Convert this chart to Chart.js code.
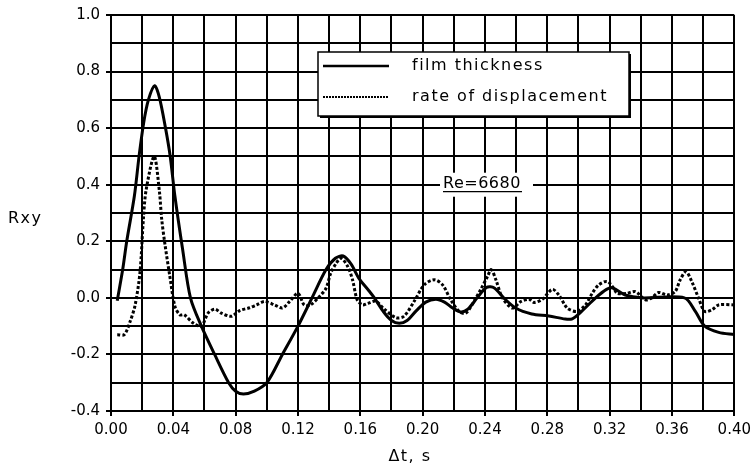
<!DOCTYPE html>
<html>
<head>
<meta charset="utf-8">
<script src="https://cdn.jsdelivr.net/npm/chart.js@4/dist/chart.umd.min.js"></script>
<style>
  html, body { margin: 0; padding: 0; background: #fff; }
  canvas { display: block; }
</style>
</head>
<body>
<canvas id="corr" width="756" height="471"></canvas>
<script>
// Cross-correlation Rxy against time lag Δt (s), Re = 6680.

const thickT = [0.004, 0.0075, 0.0101, 0.015, 0.018, 0.021, 0.024, 0.028, 0.031, 0.035, 0.038, 0.041,
    0.046, 0.051, 0.058, 0.0665, 0.0755, 0.080, 0.085, 0.092, 0.100, 0.110, 0.120, 0.129, 0.138, 0.144,
    0.149, 0.154, 0.159, 0.1655, 0.169, 0.175, 0.180, 0.185, 0.190, 0.196, 0.202, 0.2085, 0.214, 0.219,
    0.2245, 0.229, 0.235, 0.241, 0.246, 0.252, 0.2597, 0.270, 0.281, 0.2915, 0.296, 0.302, 0.311, 0.318,
    0.322, 0.330, 0.3405, 0.368, 0.375, 0.381, 0.390, 0.400];
const thickR = [-0.01, 0.10, 0.20, 0.36, 0.50, 0.62, 0.70, 0.75, 0.71, 0.60, 0.50, 0.36,
    0.17, 0.00, -0.10, -0.20, -0.30, -0.33, -0.34, -0.33, -0.30, -0.20, -0.10, 0.00, 0.10, 0.14,
    0.148, 0.12, 0.07, 0.025, 0.00, -0.05, -0.08, -0.09, -0.08, -0.045, -0.015, -0.005, -0.015, -0.035,
    -0.05, -0.04, 0.00, 0.037, 0.035, 0.00, -0.036, -0.057, -0.064, -0.075, -0.074, -0.048, 0.00, 0.03,
    0.035, 0.01, 0.00, 0.00, -0.048, -0.10, -0.122, -0.13];

const rateT = [0.004, 0.0085, 0.0125, 0.0155, 0.0186, 0.0208, 0.0225, 0.0277, 0.031, 0.0325, 0.0346,
    0.0378, 0.041, 0.0442, 0.047, 0.053, 0.058, 0.0623, 0.0666, 0.0708, 0.0773, 0.0826, 0.089, 0.0934,
    0.0986, 0.105, 0.110, 0.1146, 0.120, 0.124, 0.128, 0.1338, 0.138, 0.141, 0.1445, 0.1477, 0.152, 0.155,
    0.158, 0.1614, 0.1645, 0.170, 0.1754, 0.1829, 0.188, 0.1946, 0.201, 0.2074, 0.2128, 0.218, 0.2234,
    0.2277, 0.233, 0.2373, 0.2416, 0.244, 0.247, 0.2512, 0.2576, 0.263, 0.2682, 0.2714, 0.2768, 0.2832,
    0.2874, 0.2928, 0.299, 0.3045, 0.3088, 0.313, 0.3184, 0.3226, 0.3248, 0.331, 0.3365, 0.343, 0.347,
    0.3514, 0.357, 0.362, 0.3653, 0.369, 0.3727, 0.377, 0.381, 0.3856, 0.390, 0.400];
const rateR = [-0.13, -0.13, -0.08, -0.025, 0.09, 0.28, 0.38, 0.50, 0.38, 0.28, 0.19,
    0.075, -0.03, -0.06, -0.06, -0.09, -0.10, -0.054, -0.04, -0.054, -0.065, -0.045, -0.035, -0.025,
    -0.013, -0.025, -0.036, -0.013, 0.016, -0.025, -0.025, 0.005, 0.034, 0.087, 0.122, 0.14, 0.11, 0.064,
    -0.007, -0.025, -0.02, -0.012, -0.04, -0.07, -0.065, -0.012, 0.046, 0.064, 0.046, -0.007, -0.048,
    -0.054, -0.012, 0.03, 0.075, 0.10, 0.064, 0.00, -0.036, -0.013, -0.005, -0.016, -0.005, 0.03,
    0.01, -0.036, -0.048, -0.025, 0.016, 0.046, 0.058, 0.034, 0.016, 0.016, 0.022, -0.007, 0.00,
    0.019, 0.01, 0.022, 0.064, 0.093, 0.058, 0.00, -0.048, -0.042, -0.025, -0.025];

const seriesNames = ['film thickness', 'rate of displacement'];
const reLabel = 'Re=6680';
const xTitle = 'Δt, s';
const yTitle = 'Rxy';

const INK = '#000';
const FONT = '"DejaVu Sans", Verdana, sans-serif';

const toPoints = (ts, vs) => ts.map((t, i) => ({ x: t, y: vs[i] }));

// Legend box, Re label and the two (unrotated) axis titles.
const annotations = {
    id: 'annotations',
    afterDraw(chart) {
        const { ctx, chartArea: a, scales } = chart;
        ctx.save();
        ctx.fillStyle = INK;
        ctx.font = `16px ${FONT}`;
        ctx.letterSpacing = '1.5px';
        ctx.textBaseline = 'middle';

        // axis titles
        ctx.textAlign = 'left';
        ctx.fillText(yTitle, 8, 219);
        ctx.textAlign = 'center';
        ctx.fillText(xTitle, 410, 457);

        // legend box with drop shadow
        const bx = a.left + 207, by = a.top + 37, bw = 311, bh = 64;
        ctx.fillRect(bx + 2, by + 2, bw, bh);
        ctx.fillStyle = '#fff';
        ctx.fillRect(bx, by, bw, bh);
        ctx.strokeStyle = INK;
        ctx.lineWidth = 1.5;
        ctx.strokeRect(bx, by, bw, bh);

        ctx.lineWidth = 2.5;
        ctx.beginPath();
        ctx.moveTo(bx + 5, by + 14);
        ctx.lineTo(bx + 71, by + 14);
        ctx.stroke();
        ctx.lineWidth = 2;
        ctx.setLineDash([2, 1]);
        ctx.beginPath();
        ctx.moveTo(bx + 5, by + 45);
        ctx.lineTo(bx + 71, by + 45);
        ctx.stroke();
        ctx.setLineDash([]);

        ctx.fillStyle = INK;
        ctx.textAlign = 'left';
        ctx.fillText(seriesNames[0], bx + 94, by + 14);
        ctx.fillText(seriesNames[1], bx + 94, by + 45);

        // Re label sits on the 0.4 grid line with a white gap behind it
        const ry = scales.y.getPixelForValue(0.4);
        ctx.fillStyle = '#fff';
        ctx.fillRect(440, ry - 12, 93, 24);
        ctx.fillStyle = INK;
        ctx.letterSpacing = '0.5px';
        ctx.fillText(reLabel, 443, ry - 1);
        ctx.lineWidth = 1.2;
        ctx.beginPath();
        ctx.moveTo(443, ry + 7);
        ctx.lineTo(522, ry + 7);
        ctx.stroke();
        ctx.restore();
    },
};

new Chart(document.getElementById('corr'), {
    type: 'line',
    data: {
        datasets: [
            {
                label: seriesNames[0],
                data: toPoints(thickT, thickR),
                borderColor: INK,
                borderWidth: 3,
                pointRadius: 0,
                tension: 0.3,
                fill: false,
            },
            {
                label: seriesNames[1],
                data: toPoints(rateT, rateR),
                borderColor: INK,
                borderWidth: 3,
                borderDash: [3, 2],
                pointRadius: 0,
                tension: 0.3,
                fill: false,
            },
        ],
    },
    options: {
        responsive: false,
        animation: false,
        devicePixelRatio: 1,
        layout: { padding: { top: 15, right: 19, left: 0, bottom: 0 } },
        plugins: {
            legend: { display: false },
            tooltip: { enabled: false },
        },
        scales: {
            x: {
                type: 'linear',
                min: 0,
                max: 0.4,
                afterFit: s => { s.height = 60; },
                ticks: {
                    stepSize: 0.02,
                    autoSkip: false,
                    maxRotation: 0,
                    padding: 5,
                    color: INK,
                    font: { family: FONT, size: 15 },
                    callback: (v, i) => i % 2 === 0 ? v.toFixed(2) : '',
                },
                grid: {
                    color: INK,
                    lineWidth: 2,
                    tickLength: 5,
                    tickColor: c => c.index % 2 === 0 ? INK : 'transparent',
                },
                border: { color: INK, width: 2 },
            },
            y: {
                min: -0.4,
                max: 1.0,
                afterFit: s => { s.width = 111; },
                ticks: {
                    stepSize: 0.1,
                    autoSkip: false,
                    padding: 6,
                    color: INK,
                    font: { family: FONT, size: 15 },
                    callback: (v, i) => {
                        if (i % 2 !== 0) return '';
                        return (Math.abs(v) < 1e-9 ? 0 : v).toFixed(1);
                    },
                },
                grid: {
                    color: INK,
                    lineWidth: 2,
                    tickLength: 5,
                    tickColor: c => c.index % 2 === 0 ? INK : 'transparent',
                },
                border: { color: INK, width: 2 },
            },
        },
    },
    plugins: [annotations],
});
</script>
</body>
</html>
